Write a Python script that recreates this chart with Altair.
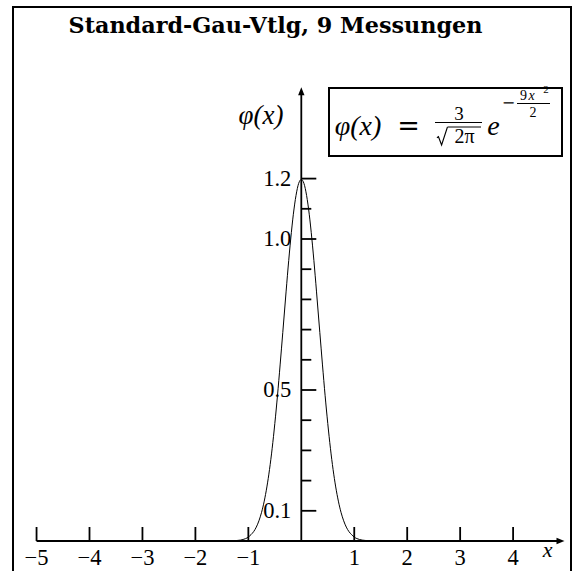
import altair as alt
import pandas as pd

TITLE = "Standard-Gau-Vtlg, 9 Messungen"

# sampled density phi(x) = 3/sqrt(2*pi) * exp(-9x^2/2)
curve_x = [-1.25, -1.20, -1.15, -1.10, -1.05, -1.00, -0.95, -0.90, -0.85, -0.80,
           -0.75, -0.70, -0.65, -0.60, -0.55, -0.50, -0.45, -0.40, -0.35, -0.30,
           -0.25, -0.20, -0.15, -0.10, -0.05, 0.00, 0.05, 0.10, 0.15, 0.20,
           0.25, 0.30, 0.35, 0.40, 0.45, 0.50, 0.55, 0.60, 0.65, 0.70,
           0.75, 0.80, 0.85, 0.90, 0.95, 1.00, 1.05, 1.10, 1.15, 1.20, 1.25]
curve_y = [0.001, 0.002, 0.003, 0.005, 0.008, 0.013, 0.021, 0.031, 0.046, 0.067,
           0.095, 0.132, 0.179, 0.237, 0.307, 0.389, 0.481, 0.583, 0.690, 0.798,
           0.904, 1.000, 1.082, 1.144, 1.184, 1.197, 1.184, 1.144, 1.082, 1.000,
           0.904, 0.798, 0.690, 0.583, 0.481, 0.389, 0.307, 0.237, 0.179, 0.132,
           0.095, 0.067, 0.046, 0.031, 0.021, 0.013, 0.008, 0.005, 0.003, 0.002, 0.001]

x_tick_values = [-5, -4, -3, -2, -1, 1, 2, 3, 4]
x_tick_labels = ["\u22125", "\u22124", "\u22123", "\u22122", "\u22121", "1", "2", "3", "4"]
y_major_values = [0.1, 0.5, 1.0, 1.2]
y_major_labels = ["0.1", "0.5", "1.0", "1.2"]
y_minor_values = [0.2, 0.3, 0.4, 0.6, 0.7, 0.8, 0.9, 1.1]

X_AXIS_START = -5.0
X_AXIS_END = 4.895   # centre of the arrow head
Y_AXIS_END = 1.489   # centre of the arrow head

W, H = 574, 571
X_ORIGIN_PX, X_UNIT_PX = 301.3, 52.95
Y_ORIGIN_PX, Y_UNIT_PX = 541.0, 302.0

SERIF = "Liberation Serif"
WIDE = "DejaVu Serif"
INK = "black"
AXIS_W = 1.8

XS = alt.Scale(domain=[-X_ORIGIN_PX / X_UNIT_PX, (W - X_ORIGIN_PX) / X_UNIT_PX], nice=False, zero=False)
YS = alt.Scale(domain=[-(H - Y_ORIGIN_PX) / Y_UNIT_PX, Y_ORIGIN_PX / Y_UNIT_PX], nice=False, zero=False)

ONE = pd.DataFrame({"k": [0]})


def xf(field):
    return alt.X(field, type="quantitative", scale=XS, axis=None)


def yf(field):
    return alt.Y(field, type="quantitative", scale=YS, axis=None)


def xd(v):
    return alt.XDatum(v, type="quantitative", scale=XS, axis=None)


def yd(v):
    return alt.YDatum(v, type="quantitative", scale=YS, axis=None)


def text(s, x, y, size, style="normal", weight="normal", font=SERIF, align="center"):
    return alt.Chart(ONE).mark_text(
        text=s, font=font, fontSize=size, fontStyle=style, fontWeight=weight,
        align=align, baseline="alphabetic", color=INK,
    ).encode(x=alt.value(x), y=alt.value(y))


def hline(x1, x2, y, w=1.2):
    return alt.Chart(ONE).mark_rule(color=INK, strokeWidth=w).encode(
        x=alt.value(x1), x2=alt.value(x2), y=alt.value(y))


layers = []

# outer frame
layers.append(alt.Chart(ONE).mark_rect(fillOpacity=0, stroke=INK, strokeWidth=2).encode(
    x=alt.value(13), x2=alt.value(571), y=alt.value(7), y2=alt.value(590)))

# title
layers.append(text(TITLE, 275.5, 33, 22.3, weight="bold", font=WIDE))

# density curve
curve = pd.DataFrame({"x": curve_x, "y": curve_y})
layers.append(alt.Chart(curve).mark_line(color=INK, strokeWidth=1, interpolate="monotone").encode(
    x=xf("x"), y=yf("y")))

# x axis with arrow head
layers.append(alt.Chart(ONE).mark_rule(color=INK, strokeWidth=AXIS_W).encode(
    x=xd(X_AXIS_START), x2=alt.X2Datum(X_AXIS_END), y=yd(0)))
layers.append(alt.Chart(ONE).mark_point(
    shape="M1,0L-1,-0.8L-1,0.8Z", size=64, filled=True, color=INK, opacity=1, strokeWidth=0
).encode(x=xd(X_AXIS_END), y=yd(0)))

# y axis with arrow head
layers.append(alt.Chart(ONE).mark_rule(color=INK, strokeWidth=AXIS_W).encode(
    x=xd(0), y=yd(0), y2=alt.Y2Datum(Y_AXIS_END)))
layers.append(alt.Chart(ONE).mark_point(
    shape="M0,-1L-0.8,1L0.8,1Z", size=64, filled=True, color=INK, opacity=1, strokeWidth=0
).encode(x=xd(0), y=yd(Y_AXIS_END)))

# x ticks and labels
xt = pd.DataFrame({"v": x_tick_values, "lab": x_tick_labels})
layers.append(alt.Chart(xt).mark_rule(color=INK, strokeWidth=AXIS_W, y2Offset=-14).encode(
    x=xf("v"), y=yd(0), y2=alt.Y2Datum(0)))
layers.append(alt.Chart(xt).mark_text(
    font=SERIF, fontSize=22.5, align="center", baseline="alphabetic", dy=24, color=INK
).encode(x=xf("v"), y=yd(0), text="lab:N"))

# y ticks (pointing right) and labels
ymaj = pd.DataFrame({"v": y_major_values, "lab": y_major_labels})
ymin = pd.DataFrame({"v": y_minor_values})
layers.append(alt.Chart(ymaj).mark_rule(color=INK, strokeWidth=AXIS_W, x2Offset=15).encode(
    y=yf("v"), x=xd(0), x2=alt.X2Datum(0)))
layers.append(alt.Chart(ymin).mark_rule(color=INK, strokeWidth=AXIS_W, x2Offset=10).encode(
    y=yf("v"), x=xd(0), x2=alt.X2Datum(0)))
layers.append(alt.Chart(ymaj).mark_text(
    font=SERIF, fontSize=22.5, align="right", baseline="middle", dx=-10, color=INK
).encode(x=xd(0), y=yf("v"), text="lab:N"))

# axis names
layers.append(text("\u03c6(x)", 261, 124, 27, style="italic"))
layers.append(text("x", 547.5, 556.5, 22, style="italic"))

# formula box: phi(x) = 3 / sqrt(2 pi) * e^(-9x^2/2)
layers.append(alt.Chart(ONE).mark_rect(fillOpacity=0, stroke=INK, strokeWidth=2).encode(
    x=alt.value(329), x2=alt.value(562), y=alt.value(88), y2=alt.value(156)))
layers.append(text("\u03c6(x)", 358, 135, 28, style="italic"))
layers.append(text("=", 408.5, 135, 27, font=WIDE))
layers.append(text("3", 459, 119.5, 19))
layers.append(hline(435, 482, 122.5))
layers.append(alt.Chart(ONE).mark_point(
    shape="M-0.62,0.2L-0.45,0.08L-0.1,1L0.55,-1", size=324, filled=False,
    color=INK, opacity=1, strokeWidth=1.1
).encode(x=alt.value(442.5), y=alt.value(136)))
layers.append(hline(447.5, 481, 127, 1.0))
layers.append(text("2\u03c0", 464.5, 143, 20))
layers.append(text("e", 493.5, 135, 28, style="italic"))
layers.append(text("\u2212", 508.5, 108, 16, font=WIDE))
layers.append(text("9", 523.5, 100, 14))
layers.append(text("x", 531.5, 100, 14, style="italic"))
layers.append(text("2", 546, 93, 11))
layers.append(hline(517, 550, 103.5, 1.0))
layers.append(text("2", 533, 116.5, 14))

chart = alt.layer(*layers).properties(
    width=W, height=H, padding=0, autosize=alt.AutoSizeParams(type="none"),
    background="white",
).configure_view(strokeWidth=0)

chart.save("out.html", embed_options={"renderer": "svg", "actions": False})
